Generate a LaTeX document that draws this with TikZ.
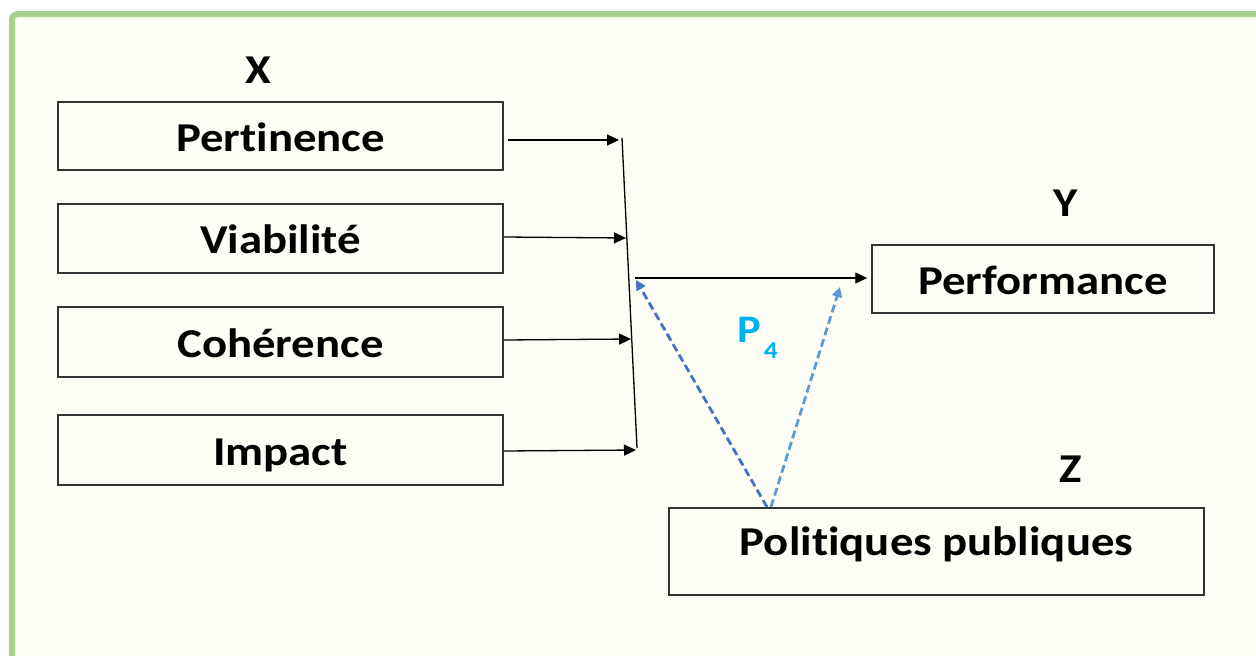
\documentclass[tikz,border=0pt]{standalone}
\usepackage{fontspec}
\setmainfont[Ligatures={NoCommon}, FakeStretch=1.14]{Carlito}
\usetikzlibrary{arrows.meta}
\definecolor{frame}{HTML}{A9D18E}
\definecolor{paper}{HTML}{FDFDF6}
\definecolor{boxline}{HTML}{333333}
\definecolor{darkblue}{HTML}{4472C4}
\definecolor{lightblue}{HTML}{5B9BD5}
\definecolor{cyanlabel}{HTML}{00B0F0}
\tikzset{
  varbox/.style={draw=boxline, line width=1.5pt, fill=paper, inner sep=0pt,
    text height=30pt, text depth=0pt,
    font=\fontsize{41}{48}\bfseries\selectfont},
  letter/.style={font=\fontsize{41}{48}\bfseries\selectfont, inner sep=0pt},
  flow/.style={line width=1.3pt, -{Triangle[length=12pt,width=11pt]}},
  influence/.style={line width=2.8pt, dash pattern=on 8pt off 4pt,
    -{Triangle[length=10pt,width=10pt]}},
}
\begin{document}
\begin{tikzpicture}[x=1pt, y=-1pt]
  \useasboundingbox (0,0) rectangle (1256,656);
  % page frame with rounded top-left corner
  \begin{scope}
    \clip (0,0) rectangle (1256,656);
    \fill[white] (0,0) rectangle (1256,656);
    \draw[frame, fill=paper, line width=6pt, rounded corners=6pt]
      (12,14) rectangle (1300,700);
  \end{scope}

  % left-hand variables (X)
  \node[letter] (lx) at (258,70) {X};
  \node[varbox, minimum width=445pt, minimum height=68pt] (pert) at (280.5,136) {Pertinence};
  \node[varbox, minimum width=445pt, minimum height=69pt] (viab) at (280.5,238.5) {Viabilité};
  \node[varbox, minimum width=445pt, minimum height=70pt] (coh) at (280.5,342) {Cohérence};
  \node[varbox, minimum width=445pt, minimum height=70pt] (imp) at (280.5,450) {Impact};

  % outcome (Y) and moderator (Z)
  \node[letter] (ly) at (1066,203) {Y};
  \node[varbox, minimum width=342pt, minimum height=68pt] (perf) at (1043,279) {Performance};
  \node[letter] (lz) at (1071,469) {Z};
  \node[varbox, minimum width=535pt, minimum height=87pt, text height=20pt, text depth=12.6pt]
    (pol) at (936.5,551.5) {Politiques publiques};

  % collecting bar
  \coordinate (bartop) at (622,138);
  \coordinate (barbot) at (637,448);
  \draw[black, line width=1.3pt] (bartop) -- (barbot);

  % arrows from the X boxes to the bar
  \coordinate (s1) at (508,140);
  \coordinate (e1) at (619,140);
  \coordinate (e2) at (626,238);
  \coordinate (e3) at (631,339);
  \coordinate (e4) at (636,450);
  \draw[flow] (s1) -- (e1);
  \draw[flow] (viab.east |- 0,237) -- (e2);
  \draw[flow] (coh.east |- 0,340) -- (e3);
  \draw[flow] (imp.east |- 0,451) -- (e4);

  % bar to outcome
  \coordinate (bout) at (635,278);
  \draw[flow] (bout) -- (perf.west |- bout) [shorten >=4pt];

  % moderating effect of public policies
  \coordinate (zfoot1) at (767,507);
  \coordinate (zfoot2) at (771,507);
  \coordinate (ztip1) at (636,280);
  \coordinate (ztip2) at (840,287);
  \draw[influence, darkblue] (zfoot1) -- (ztip1);
  \draw[influence, lightblue] (zfoot2) -- (ztip2);
  \node[font=\fontsize{39}{46}\bfseries\selectfont, text=cyanlabel, inner sep=0pt, anchor=base west]
    (p4) at (737,342) {P\hspace{3pt}\raisebox{-16pt}{\fontsize{24}{28}\selectfont 4}};
\end{tikzpicture}
\end{document}
